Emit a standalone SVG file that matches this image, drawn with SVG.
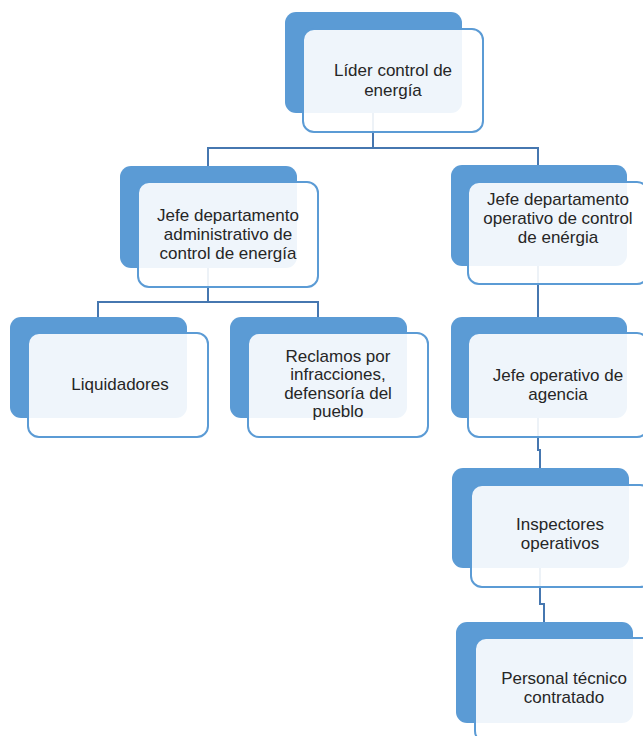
<svg xmlns="http://www.w3.org/2000/svg" width="643" height="736" viewBox="0 0 643 736">
<style>
.back{fill:#5B9BD5}
.front{fill:#FFFFFF;fill-opacity:0.9;stroke:#5B9BD5;stroke-width:2}
.conn{fill:none;stroke:#4677B0;stroke-width:2}
text{font-family:"Liberation Sans",Arial,sans-serif;font-size:17px;fill:#262626;text-anchor:middle}
</style>
<rect width="643" height="736" fill="#FFFFFF"/>
<g id="connectors">
<path class="conn" d="M373,113 V148"/>
<path class="conn" d="M208,166 V148 H538 V165"/>
<path class="conn" d="M208,268 V302"/>
<path class="conn" d="M98,317 V302 H318 V317"/>
<path class="conn" d="M538,266 V317"/>
<path class="conn" d="M538,418 V450 H540 V468"/>
<path class="conn" d="M540,568 V604 H544 V622"/>
</g>
<g id="n1">
<rect class="back" x="285" y="12" width="177" height="101" rx="11"/>
<rect class="front" x="303" y="29" width="180" height="103" rx="11"/>
<text x="393" y="76">Líder control de</text>
<text x="393" y="96">energía</text>
</g>
<g id="n2">
<rect class="back" x="120" y="166" width="177" height="102" rx="11"/>
<rect class="front" x="138" y="182" width="180" height="105" rx="11"/>
<text x="228" y="221">Jefe departamento</text>
<text x="228" y="240">administrativo de</text>
<text x="228" y="259">control de energía</text>
</g>
<g id="n3">
<rect class="back" x="451" y="165" width="176" height="101" rx="11"/>
<rect class="front" x="468" y="182" width="180" height="102" rx="11"/>
<text x="558" y="205">Jefe departamento</text>
<text x="558" y="224">operativo de control</text>
<text x="558" y="243">de enérgia</text>
</g>
<g id="n4">
<rect class="back" x="10" y="317" width="177" height="101" rx="11"/>
<rect class="front" x="28" y="333" width="180" height="104" rx="11"/>
<text x="120" y="390">Liquidadores</text>
</g>
<g id="n5">
<rect class="back" x="230" y="317" width="177" height="101" rx="11"/>
<rect class="front" x="248" y="333" width="180" height="104" rx="11"/>
<text x="338" y="362">Reclamos por</text>
<text x="338" y="380">infracciones,</text>
<text x="338" y="399">defensoría del</text>
<text x="338" y="417">pueblo</text>
</g>
<g id="n6">
<rect class="back" x="451" y="317" width="176" height="101" rx="11"/>
<rect class="front" x="468" y="333" width="180" height="104" rx="11"/>
<text x="558" y="381">Jefe operativo de</text>
<text x="558" y="400">agencia</text>
</g>
<g id="n7">
<rect class="back" x="452" y="468" width="177" height="100" rx="11"/>
<rect class="front" x="471" y="485" width="180" height="102" rx="11"/>
<text x="560" y="530">Inspectores</text>
<text x="560" y="549">operativos</text>
</g>
<g id="n8">
<rect class="back" x="456" y="622" width="177" height="101" rx="11"/>
<rect class="front" x="475" y="638" width="180" height="104" rx="11"/>
<text x="564" y="684">Personal técnico</text>
<text x="564" y="703">contratado</text>
</g>
</svg>
